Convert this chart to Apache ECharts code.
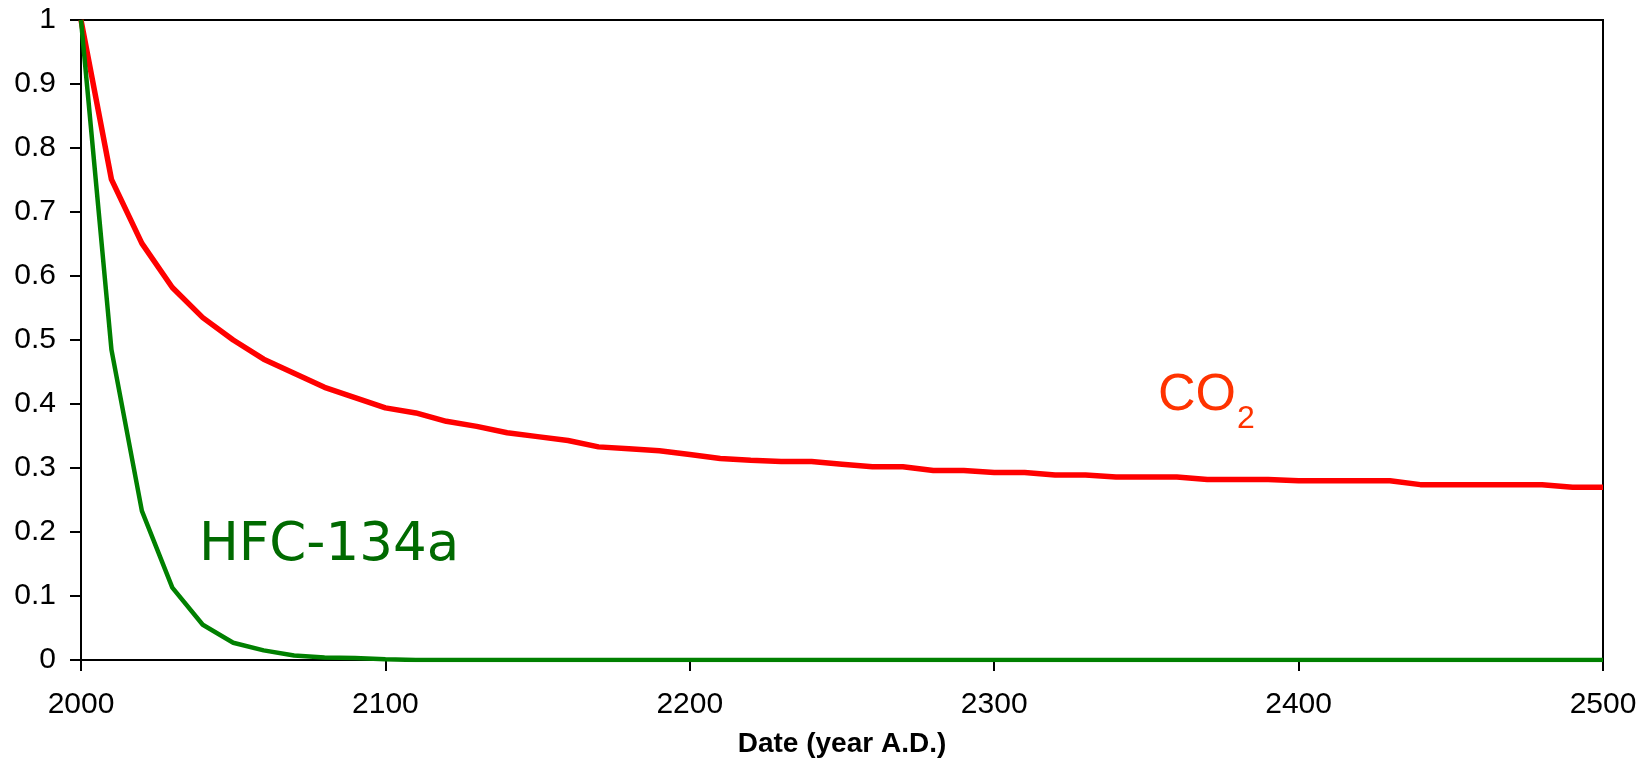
<!DOCTYPE html>
<html>
<head>
<meta charset="utf-8">
<script src="https://cdn.jsdelivr.net/npm/echarts@6/dist/echarts.min.js"></script>
<style>
html,body{margin:0;padding:0;background:#fff;}
#chart{width:1648px;height:763px;}
</style>
</head>
<body>
<div id="chart"></div>
<script>
// Years (every 10 years, 2000–2500)
var years = [2000,2010,2020,2030,2040,2050,2060,2070,2080,2090,
             2100,2110,2120,2130,2140,2150,2160,2170,2180,2190,
             2200,2210,2220,2230,2240,2250,2260,2270,2280,2290,
             2300,2310,2320,2330,2340,2350,2360,2370,2380,2390,
             2400,2410,2420,2430,2440,2450,2460,2470,2480,2490,2500];

// Fraction remaining, CO2 pulse
var co2 = [1.0,0.751,0.651,0.582,0.535,0.500,0.470,0.448,0.426,0.410,
           0.394,0.386,0.373,0.365,0.355,0.349,0.343,0.333,0.330,0.327,
           0.321,0.315,0.312,0.310,0.310,0.306,0.302,0.302,0.296,0.296,
           0.293,0.293,0.289,0.289,0.286,0.286,0.286,0.282,0.282,0.282,
           0.280,0.280,0.280,0.280,0.274,0.274,0.274,0.274,0.274,0.270,0.270];

// Fraction remaining, HFC-134a pulse
var hfc = [1.0,0.485,0.233,0.113,0.055,0.027,0.015,0.007,0.004,0.003,
           0.001,0,0,0,0,0,0,0,0,0,
           0,0,0,0,0,0,0,0,0,0,
           0,0,0,0,0,0,0,0,0,0,
           0,0,0,0,0,0,0,0,0,0,0];

var xTickLabels = ['2000','2100','2200','2300','2400','2500'];
var yTickLabels = ['0','0.1','0.2','0.3','0.4','0.5','0.6','0.7','0.8','0.9','1'];

function pairs(vals){ return years.map(function(y,i){ return [y, vals[i]]; }); }

var chart = echarts.init(document.getElementById('chart'), null, {renderer:'canvas'});
var font = '"Liberation Sans", Arial, sans-serif';
chart.setOption({
  animation:false,
  backgroundColor:'#fff',
  grid:{left:81,right:45,top:20,bottom:102,show:true,borderColor:'#000',borderWidth:2,backgroundColor:'transparent'},
  xAxis:{
    type:'value',min:2000,max:2500,interval:100,
    name:'Date (year A.D.)',nameLocation:'middle',nameGap:70,
    nameTextStyle:{fontFamily:font,fontSize:28,fontWeight:'bold',color:'#000'},
    axisLine:{show:true,lineStyle:{color:'#000',width:2}},
    axisTick:{show:true,length:11,lineStyle:{color:'#000',width:2}},
    axisLabel:{margin:30,fontFamily:font,fontSize:30,color:'#000',
      formatter:function(v){ return xTickLabels[Math.round((v-2000)/100)]; }},
    splitLine:{show:false}
  },
  yAxis:{
    type:'value',min:0,max:1,interval:0.1,
    axisLine:{show:true,lineStyle:{color:'#000',width:2}},
    axisTick:{show:true,length:11,lineStyle:{color:'#000',width:2}},
    axisLabel:{margin:25,fontFamily:font,fontSize:30,color:'#000',
      formatter:function(v){ return yTickLabels[Math.round(v*10)]; }},
    splitLine:{show:false}
  },
  series:[
    {name:'CO2',type:'line',data:pairs(co2),showSymbol:false,symbol:'none',
     lineStyle:{color:'#ff0000',width:5.5},z:3},
    {name:'HFC-134a',type:'line',data:pairs(hfc),showSymbol:false,symbol:'none',
     lineStyle:{color:'#008000',width:4.5},z:4}
  ],
  graphic:[
    {type:'text',x:1158,y:396,style:{text:'CO',font:'52px "Liberation Sans", Arial, sans-serif',fill:'#ff3300',textVerticalAlign:'middle',textAlign:'left'}},
    {type:'text',x:1237,y:419,style:{text:'2',font:'32px "Liberation Sans", Arial, sans-serif',fill:'#ff3300',textVerticalAlign:'middle',textAlign:'left'}},
    {type:'text',x:199,y:546,style:{text:'HFC-134a',font:'53px "DejaVu Sans", Verdana, sans-serif',fill:'#006a00',textVerticalAlign:'middle',textAlign:'left'}}
  ]
});
</script>
</body>
</html>
